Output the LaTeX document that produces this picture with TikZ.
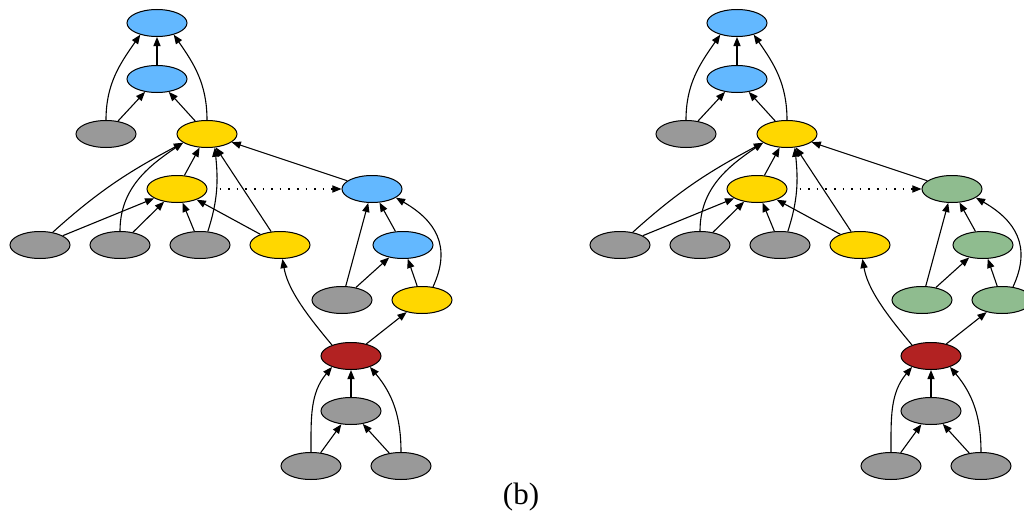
\documentclass[tikz,border=0pt]{standalone}
\usepackage{fontspec}
\setmainfont{Liberation Serif}
\usetikzlibrary{arrows.meta,shapes}

\definecolor{nodeblue}{RGB}{99,184,255}
\definecolor{nodegold}{RGB}{255,215,0}
\definecolor{nodegray}{RGB}{153,153,153}
\definecolor{nodered}{RGB}{178,34,34}
\definecolor{nodegreen}{RGB}{143,188,143}

\begin{document}
\begin{tikzpicture} [ x=0.5pt, y=-0.5pt,
		      every node/.style={draw,shape=ellipse,minimum width=30pt,minimum height=13.5pt,inner sep=0pt,line width=0.5pt},
		      link/.style={->,line width=0.55pt},
%		      link/.style={->,>=latex},
		      >={Triangle[length=4.6pt,width=3.6pt]}
		    ]
  \useasboundingbox (0,0) rectangle (1024,514);
  \clip (0,0) rectangle (1024,514);

  \foreach \dx/\colA/\colB/\colC/\colD in {0/nodeblue/nodeblue/nodegray/nodegold,580/nodegreen/nodegreen/nodegreen/nodegreen} {
  \begin{scope}[shift={(\dx,0)}, name prefix=p\dx-]
    % nodes
    \node[fill=nodeblue] (a1) at (157,23) {};
    \node[fill=nodeblue] (a2) at (157,79) {};
    \node[fill=nodegray] (g1) at (106,134) {};
    \node[fill=nodegold] (y1) at (207,134) {};
    \node[fill=nodegold] (y2) at (177,189) {};
    \node[fill=\colA] (b1) at (372,189) {};
    \node[fill=nodegray] (g2) at (40,245) {};
    \node[fill=nodegray] (g3) at (120,245) {};
    \node[fill=nodegray] (g4) at (200,245) {};
    \node[fill=nodegold] (y3) at (280,245) {};
    \node[fill=\colB] (b2) at (403,245) {};
    \node[fill=\colC] (g5) at (342,300) {};
    \node[fill=\colD] (y4) at (422,300) {};
    \node[fill=nodered] (r) at (351,356) {};
    \node[fill=nodegray] (g6) at (351,411) {};
    \node[fill=nodegray] (g7) at (311,466) {};
    \node[fill=nodegray] (g8) at (401,466) {};
    % edges
    \draw[link] (a2) -- (a1);
    \draw[link] (g1) to[out=90,in=-125] (a1.-145);
    \draw[link] (g1) -- (a2);
    \draw[link] (y1) -- (a2);
    \draw[link] (y1) to[out=90,in=-55] (a1.-35);
    \draw[link] (y2) -- (y1);
    \draw[link] (g2.45) to[out=42,in=-152] (y1.-160);
    \draw[link] (g2) -- (y2);
    \draw[link] (g3) to[out=90,in=-146] (y1.-160);
    \draw[link] (g3) -- (y2);
    \draw[link] (g4) -- (y2);
    \draw[link] (g4.60) to[out=72,in=-84] (y1.-60);
    \draw[link] (y3) -- (y1);
    \draw[link] (y3) -- (y2);
    \draw[link] (b1) -- (y1);
    \draw[link,dash pattern=on 0.8pt off 3.5pt,shorten <=6pt] (y2) -- (b1);
    \draw[link] (r.150) to[out=130,in=-80] (y3);
    \draw[link] (r) -- (y4);
    \draw[link] (g5) -- (b1);
    \draw[link] (g5) -- (b2);
    \draw[link] (b2) -- (b1);
    \draw[link] (y4) -- (b2);
    \draw[link] (y4.50) to[out=65,in=-30,looseness=1.2] (b1.-20);
    \draw[link] (g6) -- (r);
    \draw[link] (g7) to[out=90,in=-130] (r.-150);
    \draw[link] (g7) -- (g6);
    \draw[link] (g8) to[out=90,in=-50] (r.-30);
    \draw[link] (g8) -- (g6);
  \end{scope}
  }

  \node[draw=none,shape=rectangle,font=\fontsize{15.5}{18}\selectfont] (cap) at (521,497) {(b)};
\end{tikzpicture}
\end{document}
